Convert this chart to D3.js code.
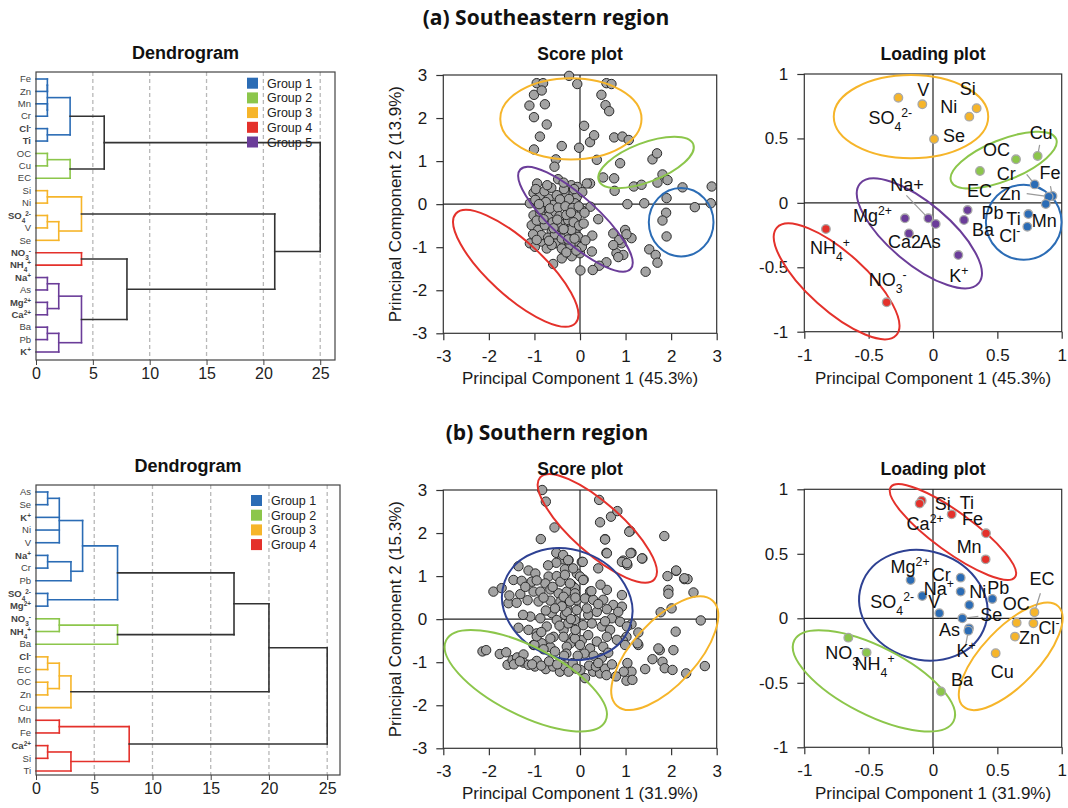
<!DOCTYPE html>
<html>
<head>
<meta charset="utf-8">
<script src="https://cdn.jsdelivr.net/npm/d3@7"></script>
<style>
  body { margin: 0; background: #fff; }
  svg { display: block; }
  text { font-family: "Liberation Sans", Arial, Helvetica, sans-serif; }
</style>
</head>
<body>
<svg id="chart" width="1068" height="808"></svg>
<script>
// ---- colours of the groups
const colors = {1: '#2b6cb5', 2: '#8cc64b', 3: '#f6b52a', 4: '#e4312b', 5: '#6b3d99', navy: '#2e4193'};

// tree node: height, children, group
function n(h, c, g) { return {h: h, c: c, g: g}; }

// ---- dendrogram (a) southeastern
const treeA = n(25, [
  n(6, [
    n(3, [n(1, [n(1, ['Fe', 'Zn']), n(1, ['Mn', 'Cr'])]), n(1, ['Cl[-]', 'Ti'])], 1),
    n(3, [n(1, ['OC', 'Cu']), 'EC'], 2)
  ]),
  n(21, [
    n(4, [n(1, ['Si', 'Ni']), n(2, [n(1, ['SO{4}[2-]', 'V']), 'Se'])], 3),
    n(8, [
      n(4, ['NO{3}[-]', 'NH{4}[+]'], 4),
      n(4, [n(2, [n(1, ['Na[+]', 'As']), n(1, ['Mg[2+]', 'Ca[2+]'])]), n(2, [n(1, ['Ba', 'Pb']), 'K[+]'])], 5)
    ])
  ])
]);
const boldA = ['Cl[-]', 'Ti', 'SO{4}[2-]', 'NO{3}[-]', 'NH{4}[+]', 'Na[+]', 'Mg[2+]', 'Ca[2+]', 'K[+]'];
const legendA = [1, 2, 3, 4, 5];

// ---- dendrogram (b) southern
const treeB = n(25, [
  n(20, [
    n(17, [
      n(7, [n(4, [n(2, [n(1, ['As', 'Se']), 'K[+]', 'Ni', 'V']), n(3, [n(1, ['Na[+]', 'Cr']), 'Pb'])]), n(1, ['SO{4}[2-]', 'Mg[2+]'])], 1),
      n(7, [n(2, ['NO{3}[-]', 'NH{4}[+]']), 'Ba'], 2)
    ]),
    n(3, [n(2, [n(1, ['Cl[-]', 'EC']), n(1, ['OC', 'Zn'])]), 'Cu'], 3)
  ]),
  n(8, [n(2, ['Mn', 'Fe']), n(3, [n(1, ['Ca[2+]', 'Si']), 'Ti'])], 4)
]);
const boldB = ['K[+]', 'Na[+]', 'SO{4}[2-]', 'Mg[2+]', 'NO{3}[-]', 'NH{4}[+]', 'Cl[-]', 'Ca[2+]'];
const legendB = [1, 2, 3, 4];

// ---- score plot (a): PC1, PC2
const scoreA = [
  [-0.95,2.81],[-0.81,2.81],[-1.01,2.54],[-0.84,2.64],[-1.11,2.29],[-0.77,2.32],[-1.01,2.02],[-0.73,1.85],
  [-0.88,1.57],[-1.01,1.27],[-0.40,1.35],[-0.24,2.98],[-0.06,2.79],[-0.02,1.31],[0.09,1.82],[0.22,1.44],
  [0.31,1.60],[0.37,1.03],[0.47,2.54],[0.56,2.30],[0.64,2.16],[0.58,2.81],[0.69,2.79],[0.75,1.55],
  [0.93,1.57],[1.07,1.49],[-0.53,1.04],[-0.56,0.87],
  [0.51,0.62],[0.75,0.60],[0.88,0.95],[0.76,0.31],[1.18,0.41],[1.35,0.45],[1.59,1.04],[1.69,1.18],
  [1.81,0.69],[1.92,0.56],[1.70,0.50],
  [2.25,0.39],[2.89,0.41],[2.87,0.02],[2.52,-0.07],[1.90,0.14],[1.89,-0.20],[1.81,-0.38],[1.90,-0.75],
  [1.04,0.00],[1.41,0.02],[0.22,0.48],
  [1.52,-1.05],[1.66,-1.18],[1.70,-1.36],[1.44,-1.57],[1.13,-0.79],[0.99,-0.60],[1.02,-0.70],[0.91,-0.91],
  [0.73,-0.68],[0.86,-0.83],[0.80,-1.14],[0.95,-1.18],[0.84,-1.23],[0.73,-0.95],[0.58,-1.35],[0.42,-1.43],
  [0.28,-1.53],[0.01,-1.54],[0.26,-1.10],[0.27,-0.73],[0.40,-0.35],[0.23,-0.06],[0.00,-1.14],[0.03,-0.99],
  [-0.07,-0.93],[-0.12,-0.62],[-0.18,-0.52],[-0.40,-1.26],[-0.59,-1.39],[-0.38,-1.05],[-0.24,-0.95],
  [-0.94,0.48],[-0.48,0.58],[-0.19,0.44],[-0.06,0.40],[0.15,0.48],[-1.02,0.26],[-0.87,0.21],[-0.69,0.13],
  [-0.51,0.21],[-0.29,0.23],[-0.14,0.25],[-0.07,0.17],[-0.21,0.05],[-1.10,0.02],[-0.92,-0.02],[-0.81,-0.10],
  [-0.59,-0.02],[-0.40,0.02],[-0.26,-0.14],[-0.11,0.02],[0.04,-0.14],[-1.02,-0.26],[-0.87,-0.22],[-0.69,-0.29],
  [-0.54,-0.18],[-0.40,-0.37],[-0.26,-0.37],[-0.07,-0.29],[-1.06,-0.49],[-0.92,-0.60],[-0.77,-0.49],[-0.62,-0.64],
  [-0.48,-0.52],[-0.33,-0.72],[-0.19,-0.60],[-0.04,-0.76],[-1.10,-0.91],[-0.99,-0.99],[-0.84,-0.87],[-0.73,-1.03],
  [-0.54,-0.91],[-0.40,-1.03],[-0.21,-0.95],[0.04,-0.99],[-0.18,-1.21],
  [-0.97,0.35],[-0.78,0.30],[-0.63,0.38],[-0.35,0.35],[-0.24,0.12],[-0.44,0.11],[-0.75,0.05],[-0.98,0.10],
  [-0.66,-0.10],[-0.48,-0.08],[-0.32,-0.05],[-0.16,-0.09],[-0.03,-0.05],[-0.95,-0.38],[-0.80,-0.35],[-0.60,-0.42],
  [-0.45,-0.28],[-0.30,-0.25],[-0.14,-0.42],[-0.02,-0.50],[-0.85,-0.72],[-0.70,-0.78],[-0.55,-0.70],[-0.40,-0.80],
  [-0.26,-0.82],[-0.12,-0.80],[-1.03,-0.70],[-0.95,-0.83],[-0.62,-0.95],[-0.30,-1.12],[-0.08,-1.08],[0.08,-0.45],
  [0.10,-0.20],[0.05,0.28],[-0.13,0.35],[-0.36,0.50],[-0.72,0.44],[-0.88,-0.12],[-0.20,-0.20],[-0.58,-0.56],
  [-0.90,0.00],[-0.50,-0.36],[-0.36,-0.58],[-0.68,-0.85],[0.12,-0.84]
];

// ---- score plot (b): PC1, PC2
const scoreB = [
  [-0.83,3.00],[-0.75,2.73],[-0.56,2.13],[-0.86,1.86],[0.42,2.77],[0.44,2.25],[0.68,2.38],[0.82,2.51],
  [1.10,2.05],[0.55,1.86],[0.58,1.54],[1.13,1.54],[1.37,1.41],[0.95,1.36],[1.04,1.26],[0.40,1.18],[1.85,1.93],
  [1.92,1.00],[2.11,1.12],[2.29,0.93],[2.36,0.93],[1.94,0.68],[1.94,0.59],[2.49,0.62],[2.01,0.25],[1.77,0.16],
  [2.65,-0.03],[2.10,-0.29],[2.05,-0.72],[1.75,-0.72],[1.59,-0.93],[1.81,-0.99],[1.86,-1.14],[2.03,-1.18],
  [2.33,-1.26],[2.74,-1.09],[1.43,-1.16],[1.28,-0.60],[1.28,-0.31],[1.13,-0.12],[1.02,-0.41],[0.94,-0.50],
  [1.04,-1.02],[1.13,-1.22],[1.02,-1.43],[1.15,-1.41],[0.96,-1.22],[0.79,-1.33],
  [-2.14,-0.75],[-2.06,-0.72],[-1.76,-0.81],[-1.62,-0.77],[-1.59,-1.06],[-1.48,-0.95],[-1.38,-0.89],[-1.24,-0.82],
  [-1.24,-1.01],[-1.13,-1.06],[-0.99,-1.10],[-0.95,-0.97],[-0.75,-1.16],[-0.59,-1.10],[-0.44,-1.22],[-0.33,-1.10],
  [-0.16,-1.02],[0.01,-1.18],[0.11,-1.37],[0.29,-1.22],[0.44,-1.26],[-1.05,-1.05],[-0.85,-1.08],[-0.68,-0.98],
  [-0.50,-1.05],[-0.25,-1.22],[-0.08,-1.15],[0.20,-1.08],[0.35,-1.10],[0.55,-1.15],[-1.45,-1.05],[-1.32,-0.98],
  [-0.52,1.54],[-0.40,1.39],[-0.25,1.37],[-0.52,1.31],[0.04,1.33],[-1.35,1.23],[-1.13,1.13],[-0.98,1.06],
  [-0.69,0.99],[-0.51,1.00],[-0.33,1.16],[-0.07,1.06],[0.08,0.92],[-1.46,0.91],[-1.28,0.89],[-1.06,0.87],
  [-0.76,0.83],[-0.43,0.87],[-0.18,0.79],[-1.90,0.64],[-1.72,0.72],[-1.31,0.58],[-1.02,0.64],[-0.87,0.64],
  [-0.65,0.69],[-0.47,0.60],[-0.29,0.64],[-0.11,0.72],[-1.57,0.37],[-1.39,0.38],[-1.15,0.44],[-0.91,0.41],
  [-0.65,0.43],[-0.43,0.41],[-0.29,0.27],[-0.07,0.44],[-1.09,0.06],[-0.87,0.02],[-0.62,0.14],[-0.51,-0.02],
  [-0.33,0.10],[-0.11,-0.02],[-1.13,-0.25],[-0.95,-0.33],[-0.73,-0.17],[-0.58,-0.41],[-0.36,-0.25],[-0.14,-0.41],
  [0.04,-0.49],[-1.02,-0.60],[-0.84,-0.56],[-0.65,-0.65],[-0.21,-0.56],
  [0.55,1.85],[1.08,2.03],[0.59,1.53],[1.11,1.53],[0.92,1.33],[1.03,1.30],[1.36,1.41],[0.06,1.33],[2.11,1.13],
  [2.29,0.95],[-0.37,1.49],[-0.26,1.37],[-0.15,1.18],[0.00,0.99],[-0.33,1.03],[-0.22,0.83],[0.07,0.91],
  [0.22,0.64],[0.59,0.68],[0.92,0.56],[-0.11,0.60],[-0.36,0.52],[-0.22,0.41],[0.11,0.48],[0.29,0.45],
  [0.51,0.45],[0.73,0.33],[0.92,0.29],[0.59,0.23],[-0.29,0.17],[-0.07,0.21],[0.18,0.10],[0.37,0.17],
  [0.70,0.02],[0.84,0.17],[-0.26,-0.10],[0.07,-0.14],[0.26,-0.10],[0.48,-0.17],[0.66,-0.25],[0.88,-0.06],
  [1.03,-0.17],[-0.36,-0.41],[-0.11,-0.45],[0.18,-0.37],[0.37,-0.52],[0.59,-0.41],[0.81,-0.48],[0.99,-0.60],
  [1.26,-0.56],[-0.29,-0.64],[0.00,-0.60],[0.22,-0.68],[0.51,-0.64],[1.72,-0.68],
  [0.10,-0.80],[0.30,-0.85],[0.48,-0.90],[0.62,-0.78],[0.70,-1.05],[0.58,-1.30],[0.40,-1.02],[-0.05,-0.85],
  [-0.30,-0.80],[-0.55,-0.75],[-0.80,-0.70],[-1.00,-0.60],[-0.95,-0.40],
  [-0.60,0.75],[-0.80,0.50],[-0.40,0.30],[-0.20,0.00],[-0.55,0.25],[-0.75,0.20],[-1.25,0.10],[-1.35,-0.20],
  [-0.45,-0.15],[-0.85,-0.30],[-0.10,-0.25],[0.40,0.35],[0.25,0.65],[0.45,0.80],[-0.95,0.90],[-1.55,0.55],
  [-1.20,0.75],[-0.70,1.25],[-0.10,0.50],[0.55,-0.05],[0.15,0.25],[-0.35,-0.85],[-0.65,-0.45]
];

// ---- loading plots: name, PC1, PC2, group
const loadingA = [
  ['SO{4}[2-]', -0.269, 0.816, 3], ['V', -0.083, 0.765, 3], ['Si', 0.339, 0.734, 3], ['Ni', 0.282, 0.669, 3],
  ['Se', 0.008, 0.495, 3], ['OC', 0.645, 0.338, 2], ['Cu', 0.813, 0.364, 2], ['EC', 0.365, 0.247, 2],
  ['Cr', 0.79, 0.143, 1], ['Fe', 0.928, 0.053, 1], ['Zn', 0.899, 0.048, 1], ['Mn', 0.876, -0.009, 1],
  ['Ti', 0.741, -0.087, 1], ['Cl[-]', 0.733, -0.185, 1], ['NH{4}[+]', -0.832, -0.203, 4], ['NO{3}[-]', -0.36, -0.772, 4],
  ['Na+', -0.036, -0.12, 5], ['Mg[2+]', -0.218, -0.12, 5], ['Ca2', -0.187, -0.237, 5], ['As', 0.021, -0.164, 5],
  ['K[+]', 0.197, -0.405, 5], ['Pb', 0.269, -0.056, 5], ['Ba', 0.241, -0.133, 5]
];
const loadingB = [
  ['Si', -0.088, 0.912, 4], ['Ca[2+]', -0.104, 0.889, 4], ['Ti', 0.145, 0.806, 4], ['Fe', 0.412, 0.659, 4],
  ['Mn', 0.409, 0.457, 4], ['Mg[2+]', -0.174, 0.297, 1], ['SO{4}[2-]', -0.083, 0.173, 1], ['V', 0.049, 0.039, 1],
  ['Cr', 0.215, 0.315, 1], ['Na[+]', 0.215, 0.207, 1], ['Ni', 0.282, 0.103, 1], ['Pb', 0.461, 0.15, 1],
  ['Se', 0.228, 0.0, 1], ['As', 0.28, -0.078, 1], ['K[+]', 0.275, -0.096, 1], ['NO{3}[-]', -0.658, -0.15, 2],
  ['NH{4}[+]', -0.516, -0.266, 2], ['Ba', 0.062, -0.568, 2], ['OC', 0.65, -0.034, 3], ['EC', 0.788, 0.047, 3],
  ['Cl[-]', 0.78, -0.039, 3], ['Zn', 0.637, -0.142, 3], ['Cu', 0.487, -0.271, 3]
];

// ---- group ellipses: centre PC1, centre PC2, semi axes (PC1 units), angle, colour key
const ellScoreA = [[-0.20, 1.98, 1.55, 0.89, 0, 3], [1.45, 0.97, 1.11, 0.43, -21, 2], [2.22, -0.42, 0.71, 0.75, 0, 1],
  [-0.10, -0.35, 1.63, 0.49, 42, 5], [-1.41, -1.49, 1.78, 0.60, 42.5, 4]];
const ellScoreB = [[0.38, 2.11, 1.68, 0.55, 41.7, 4], [-0.28, 0.35, 1.46, 1.19, 20, 'navy'],
  [-1.19, -1.43, 1.96, 0.75, 27, 2], [1.86, -0.79, 1.56, 0.70, -47.6, 3]];
const ellLoadA = [[-0.171, 0.669, 0.600, 0.323, 0, 3], [0.549, 0.332, 0.44, 0.158, -22, 2], [0.705, -0.151, 0.294, 0.291, 0, 1],
  [-0.106, -0.237, 0.602, 0.236, 40, 5], [-0.749, -0.609, 0.624, 0.225, 42, 4]];
const ellLoadB = [[0.155, 0.669, 0.596, 0.154, 36, 4], [-0.075, 0.101, 0.506, 0.421, 18, 'navy'],
  [-0.459, -0.485, 0.694, 0.264, 27, 2], [0.604, -0.295, 0.536, 0.220, -46.4, 3]];

// ---- label placement for the loading plots (px offsets: text dx, dy, optional leader dx, dy)
const labA = {
  'SO{4}[2-]': [-30, 26], 'V': [-5, -8], 'Si': [-17, -13], 'Ni': [-29, -4], 'Se': [9, 3], 'OC': [-33, -3],
  'Cu': [-8, -17, 2, -11], 'EC': [-13, 26], 'Cr': [-38, -4, -8, -10], 'Fe': [-13, -17, -2, -10],
  'Zn': [-49, 3, -22, -3], 'Mn': [-14, 23], 'Ti': [-22, 11], 'Cl[-]': [-28, 15], 'NH{4}[+]': [-16, 25],
  'NO{3}[-]': [-18, -16], 'Na+': [-38, -27, -22, -23], 'Mg[2+]': [-52, 4], 'Ca2': [-21, 15], 'As': [-16, 24],
  'K[+]': [-9, 27], 'Pb': [14, 9], 'Ba': [8, 16]
};
const labB = {
  'Si': [13, 9], 'Ti': [8, -5], 'Ca[2+]': [-13, 26], 'Fe': [-24, -8], 'Mn': [-29, -6], 'Mg[2+]': [-20, -7],
  'Cr': [-29, 3], 'Na[+]': [-37, 3], 'SO{4}[2-]': [-52, 12], 'V': [-11, -5], 'Ni': [0, -7], 'Pb': [-5, -5],
  'EC': [-5, -27, 6, -19], 'OC': [-14, -13], 'Se': [18, 3, 16, -2], 'Cl[-]': [5, 11], 'Zn': [4, 7],
  'As': [-30, 8], 'K[+]': [-12, 26, -3, 16], 'Cu': [-5, 25], 'Ba': [10, -6], 'NO{3}[-]': [-23, 21], 'NH{4}[+]': [-12, 17]
};

const svg = d3.select('#chart');

// text with {sub} and [sup] parts
function rich(sel, str, size) {
  str.match(/\{[^}]*\}|\[[^\]]*\]|[^{\[]+/g).forEach(function(p) {
    const t = sel.append('tspan');
    if (p[0] === '{') t.attr('baseline-shift', 'sub').attr('font-size', size * 0.68).text(p.slice(1, -1));
    else if (p[0] === '[') t.attr('baseline-shift', 'super').attr('font-size', size * 0.68).text(p.slice(1, -1));
    else t.text(p);
  });
}

function title(x, y, str, size, weight, family) {
  svg.append('text').attr('x', x).attr('y', y).attr('text-anchor', 'middle')
    .attr('font-size', size).attr('font-weight', weight)
    .style('font-family', family || null).attr('fill', '#111').text(str);
}

function drawDendro(cfg) {
  const g = svg.append('g');
  const x = d3.scaleLinear().domain([0, cfg.xmax]).range([cfg.x0, cfg.x1]);
  const leaves = [];
  (function walk(nd) { if (typeof nd === 'string') leaves.push(nd); else nd.c.forEach(walk); })(cfg.tree);
  const row = d3.scalePoint().domain(leaves).range([cfg.r0, cfg.r1]);
  const yOf = nd => typeof nd === 'string' ? row(nd) : (yOf(nd.c[0]) + yOf(nd.c[nd.c.length - 1])) / 2;
  const hOf = nd => typeof nd === 'string' ? 0 : nd.h;

  g.selectAll('.grid').data([5, 10, 15, 20, 25]).join('line')
    .attr('x1', d => x(d)).attr('x2', d => x(d)).attr('y1', cfg.y0).attr('y2', cfg.y1)
    .attr('stroke', '#b8b8b8').attr('stroke-width', 1.3).attr('stroke-dasharray', '4,3');

  const segs = [];
  (function draw(nd, grp) {
    const gg = nd.g || grp;
    const col = gg ? colors[gg] : '#333';
    segs.push({a: nd.h, b: nd.h, y1: yOf(nd.c[0]), y2: yOf(nd.c[nd.c.length - 1]), col: col});
    nd.c.forEach(function(ch) {
      segs.push({a: hOf(ch), b: nd.h, y1: yOf(ch), y2: yOf(ch), col: col});
      if (typeof ch !== 'string') draw(ch, gg);
    });
  })(cfg.tree, null);
  segs.sort((p, q) => (p.col === '#333') - (q.col === '#333'));
  g.selectAll('.link').data(segs).join('line')
    .attr('x1', d => x(d.a)).attr('x2', d => x(d.b)).attr('y1', d => d.y1).attr('y2', d => d.y2)
    .attr('stroke', d => d.col).attr('stroke-width', 1.6).attr('stroke-linecap', 'square');

  g.append('rect').attr('x', cfg.x0).attr('y', cfg.y0).attr('width', cfg.x1 - cfg.x0).attr('height', cfg.y1 - cfg.y0)
    .attr('fill', 'none').attr('stroke', '#444').attr('stroke-width', 1.2);

  leaves.forEach(function(lf) {
    const t = g.append('text').attr('x', cfg.x0 - 5).attr('y', row(lf) + 3.2).attr('text-anchor', 'end')
      .attr('font-size', 9.5).attr('fill', '#444').attr('font-weight', cfg.bold.includes(lf) ? 'bold' : 'normal');
    rich(t, lf, 9.5);
  });

  const ax = g.append('g').attr('transform', 'translate(0,' + cfg.y1 + ')')
    .call(d3.axisBottom(x).tickValues([0, 5, 10, 15, 20, 25]).tickSize(5).tickPadding(3));
  ax.select('.domain').remove();
  ax.selectAll('line').attr('stroke', '#444');
  ax.selectAll('text').attr('font-size', 16).attr('fill', '#222').style('font-family', '"Liberation Sans", Arial, sans-serif');

  const lg = g.selectAll('.leg').data(cfg.legend).join('g')
    .attr('transform', (d, i) => 'translate(' + cfg.lx + ',' + (cfg.ly + i * 14.7) + ')');
  lg.append('rect').attr('width', 11).attr('height', 11).attr('fill', d => colors[d]);
  lg.append('text').attr('x', 20).attr('y', 10).attr('font-size', 12.5).attr('fill', '#222').text(d => 'Group ' + d);

  title((cfg.x0 + cfg.x1) / 2, cfg.y0 - 13, 'Dendrogram', 18, 'bold');
}

function frameAxes(g, x, y, box, ticks, fmt) {
  g.append('line').attr('x1', x(0)).attr('x2', x(0)).attr('y1', box.y0).attr('y2', box.y1)
    .attr('stroke', '#222').attr('stroke-width', 1.2);
  g.append('line').attr('x1', box.x0).attr('x2', box.x1).attr('y1', y(0)).attr('y2', y(0))
    .attr('stroke', '#222').attr('stroke-width', 1.2);
  const ay = g.append('g').attr('transform', 'translate(' + box.x0 + ',0)')
    .call(d3.axisLeft(y).tickValues(ticks).tickFormat(fmt).tickSize(7).tickPadding(9));
  const ax = g.append('g').attr('transform', 'translate(0,' + box.y1 + ')')
    .call(d3.axisBottom(x).tickValues(ticks).tickFormat(fmt).tickSize(7).tickPadding(10));
  [ax, ay].forEach(function(a) {
    a.select('.domain').remove();
    a.selectAll('line').attr('stroke', '#333').attr('stroke-width', 1.2);
    a.selectAll('text').attr('font-size', 17).attr('fill', '#1a1a1a').style('font-family', '"Liberation Sans", Arial, sans-serif');
  });
}

function drawEllipses(g, x, y, list) {
  const k = x(1) - x(0);
  g.selectAll('.ell').data(list).join('ellipse')
    .attr('cx', d => x(d[0])).attr('cy', d => y(d[1])).attr('rx', d => d[2] * k).attr('ry', d => d[3] * k)
    .attr('transform', d => 'rotate(' + d[4] + ',' + x(d[0]) + ',' + y(d[1]) + ')')
    .attr('fill', 'none').attr('stroke', d => colors[d[5]]).attr('stroke-width', 2);
}

function drawScore(cfg) {
  const g = svg.append('g');
  const x = d3.scaleLinear().domain([-3, 3]).range([cfg.x0, cfg.x1]);
  const y = d3.scaleLinear().domain([-3, 3]).range([cfg.y1, cfg.y0]);
  g.append('rect').attr('x', cfg.x0).attr('y', cfg.y0).attr('width', cfg.x1 - cfg.x0).attr('height', cfg.y1 - cfg.y0)
    .attr('fill', 'none').attr('stroke', '#333').attr('stroke-width', 1.2);
  frameAxes(g, x, y, cfg, [-3, -2, -1, 0, 1, 2, 3], d => String(d));
  g.selectAll('.pt').data(cfg.data).join('circle')
    .attr('cx', d => x(d[0])).attr('cy', d => y(d[1])).attr('r', 4.7)
    .attr('fill', '#a3a3a3').attr('stroke', '#2a2a2a').attr('stroke-width', 1);
  drawEllipses(g, x, y, cfg.ell);
  title((cfg.x0 + cfg.x1) / 2, cfg.y0 - 15, 'Score plot', 17.5, 'bold');
  svg.append('text').attr('x', (cfg.x0 + cfg.x1) / 2).attr('y', cfg.y1 + 51).attr('text-anchor', 'middle')
    .attr('font-size', 17).attr('fill', '#1a1a1a').text(cfg.xlab);
  svg.append('text').attr('transform', 'translate(' + (cfg.x0 - 42) + ',' + (cfg.y0 + cfg.y1) / 2 + ') rotate(-90)')
    .attr('text-anchor', 'middle').attr('font-size', 17).attr('fill', '#1a1a1a').text(cfg.ylab);
}

function drawLoading(cfg) {
  const g = svg.append('g');
  const x = d3.scaleLinear().domain([-1, 1]).range([cfg.x0, cfg.x1]);
  const y = d3.scaleLinear().domain([-1, 1]).range([cfg.y1, cfg.y0]);
  g.append('rect').attr('x', cfg.x0).attr('y', cfg.y0).attr('width', cfg.x1 - cfg.x0).attr('height', cfg.y1 - cfg.y0)
    .attr('fill', 'none').attr('stroke', '#333').attr('stroke-width', 1.2);
  frameAxes(g, x, y, cfg, [-1, -0.5, 0, 0.5, 1], d => String(d));
  drawEllipses(g, x, y, cfg.ell);
  // leader lines
  cfg.data.forEach(function(d) {
    const p = cfg.lab[d[0]];
    if (p && p.length > 2) {
      g.append('line').attr('x1', x(d[1]) + p[2]).attr('y1', y(d[2]) + p[3]).attr('x2', x(d[1])).attr('y2', y(d[2]))
        .attr('stroke', '#9a9a9a').attr('stroke-width', 1.2);
    }
  });
  g.selectAll('.pt').data(cfg.data).join('circle')
    .attr('cx', d => x(d[1])).attr('cy', d => y(d[2])).attr('r', 4.3)
    .attr('fill', d => colors[d[3]]).attr('stroke', '#a8a8a8').attr('stroke-width', 1.3);
  cfg.data.forEach(function(d) {
    const p = cfg.lab[d[0]] || [6, -6];
    const t = g.append('text').attr('x', x(d[1]) + p[0]).attr('y', y(d[2]) + p[1])
      .attr('font-size', 18).attr('fill', '#111');
    rich(t, d[0], 18);
  });
  title((cfg.x0 + cfg.x1) / 2, cfg.y0 - 14, 'Loading plot', 17.5, 'bold');
  svg.append('text').attr('x', (cfg.x0 + cfg.x1) / 2).attr('y', cfg.y1 + 52).attr('text-anchor', 'middle')
    .attr('font-size', 17).attr('fill', '#1a1a1a').text(cfg.xlab);
}

// ---- panel (a)
title(546, 25, '(a) Southeastern region', 21, 'bold', '"Open Sans", sans-serif');
drawDendro({tree: treeA, bold: boldA, legend: legendA, x0: 36, x1: 335, y0: 72, y1: 360, xmax: 26.3,
  r0: 79, r1: 352, lx: 247, ly: 77.7});
drawScore({data: scoreA, ell: ellScoreA, x0: 443.3, x1: 716.7, y0: 75, y1: 333.3,
  xlab: 'Principal Component 1 (45.3%)', ylab: 'Principal Component 2 (13.9%)'});
drawLoading({data: loadingA, lab: labA, ell: ellLoadA, x0: 804.3, x1: 1061.7, y0: 74, y1: 331.7,
  xlab: 'Principal Component 1 (45.3%)'});

// ---- panel (b)
title(547, 440, '(b) Southern region', 21, 'bold', '"Open Sans", sans-serif');
drawDendro({tree: treeB, bold: boldB, legend: legendB, x0: 36, x1: 340, y0: 485, y1: 775, xmax: 26.1,
  r0: 492, r1: 771, lx: 251, ly: 495});
drawScore({data: scoreB, ell: ellScoreB, x0: 443.3, x1: 716.7, y0: 490, y1: 748.3,
  xlab: 'Principal Component 1 (31.9%)', ylab: 'Principal Component 2 (15.3%)'});
drawLoading({data: loadingB, lab: labB, ell: ellLoadB, x0: 804.3, x1: 1061.7, y0: 489.3, y1: 747.3,
  xlab: 'Principal Component 1 (31.9%)'});
</script>
</body>
</html>
